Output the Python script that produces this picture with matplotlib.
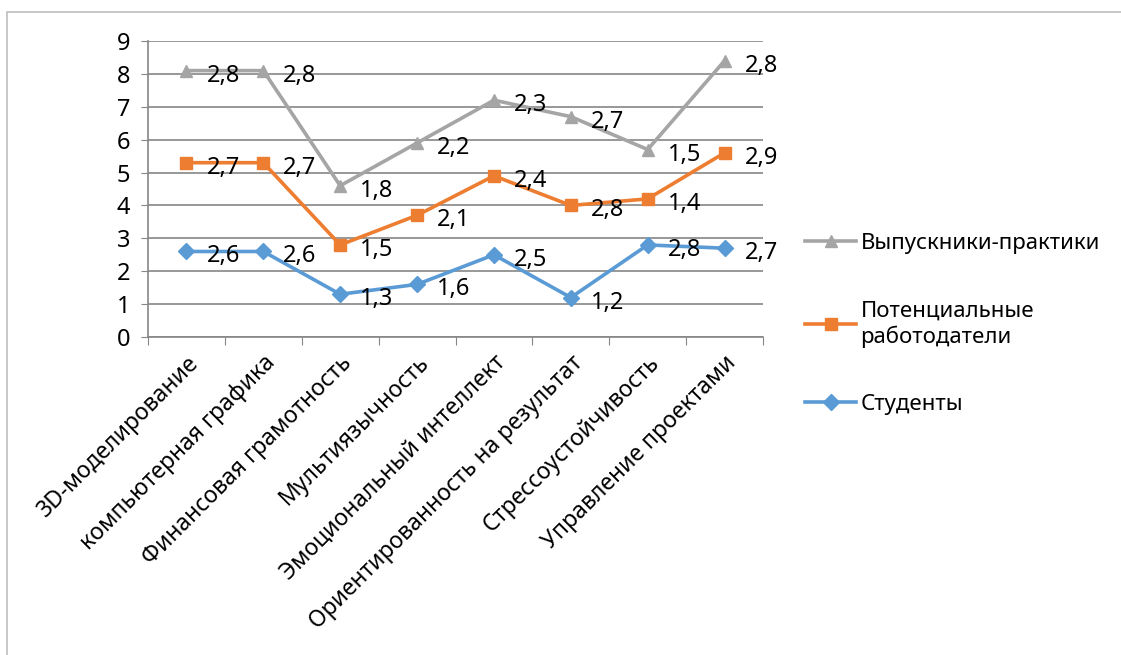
import matplotlib.pyplot as plt
import numpy as np
from matplotlib.patches import Rectangle

plt.rcParams['font.family'] = ['Noto Sans', 'DejaVu Sans']

categories = ['3D-моделирование', 'компьютерная графика', 'Финансовая грамотность',
              'Мультиязычность', 'Эмоциональный интеллект',
              'Ориентированность на результат', 'Стрессоустойчивость',
              'Управление проектами']
students = [2.6, 2.6, 1.3, 1.6, 2.5, 1.2, 2.8, 2.7]
employers = [2.7, 2.7, 1.5, 2.1, 2.4, 2.8, 1.4, 2.9]
graduates = [2.8, 2.8, 1.8, 2.2, 2.3, 2.7, 1.5, 2.8]

# stacked line chart: each series sits on top of the previous one
s1 = np.array(students)
s2 = s1 + np.array(employers)
s3 = s2 + np.array(graduates)

fig = plt.figure(figsize=(11.21, 6.55), dpi=100)
fig.patches.append(Rectangle((7 / 1121, -0.1), 1.2, 1 - 12 / 655 + 0.1,
                             transform=fig.transFigure, fill=False,
                             edgecolor='#BFBFBF', linewidth=1.2))
ax = fig.add_axes([148 / 1121, 1 - 337 / 655, 615 / 1121, 296 / 655])

x = np.arange(len(categories))
series = [
    (s3, graduates, '#A5A5A5', '^', 'Выпускники-практики'),
    (s2, employers, '#ED7D31', 's', 'Потенциальные\nработодатели'),
    (s1, students, '#5B9BD5', 'D', 'Студенты'),
]
for ys, vals, color, marker, label in series:
    ax.plot(x, ys, color=color, linewidth=2.6, marker=marker, markersize=8,
            label=label, zorder=3)
    for xi, yi, v in zip(x, ys, vals):
        ax.annotate(f'{v:.1f}'.replace('.', ','), (xi, yi), xytext=(20, -5),
                    textcoords='offset pixels', ha='left', va='center',
                    fontsize=17, color='black', zorder=4)

ax.set_xlim(-0.5, len(categories) - 0.5)
ax.set_ylim(0, 9)
ax.set_yticks(range(10))
ax.yaxis.grid(True, color='#868686', linewidth=1.2)
ax.set_axisbelow(True)
for side in ['top', 'right']:
    ax.spines[side].set_visible(False)
for side in ['left', 'bottom']:
    ax.spines[side].set_color('#868686')
    ax.spines[side].set_linewidth(1.2)
ax.tick_params(axis='y', labelsize=17, length=5, color='#868686', pad=8)
ax.set_xticks(np.arange(len(categories) + 1) - 0.5)
ax.set_xticklabels([])
ax.tick_params(axis='x', which='major', length=6, color='#868686')
ax.set_xticks(x, minor=True)
ax.set_xticklabels(categories, minor=True, rotation=45, ha='right',
                   rotation_mode='anchor', fontsize=16.5)
ax.tick_params(axis='x', which='minor', length=0, pad=10)

fig.legend(loc='upper left', bbox_to_anchor=(785 / 1121, 1 - 213 / 655),
           frameon=False, fontsize=16, labelspacing=2.1, handlelength=2.3,
           handletextpad=0.2)

plt.savefig('out.png', dpi=100)
